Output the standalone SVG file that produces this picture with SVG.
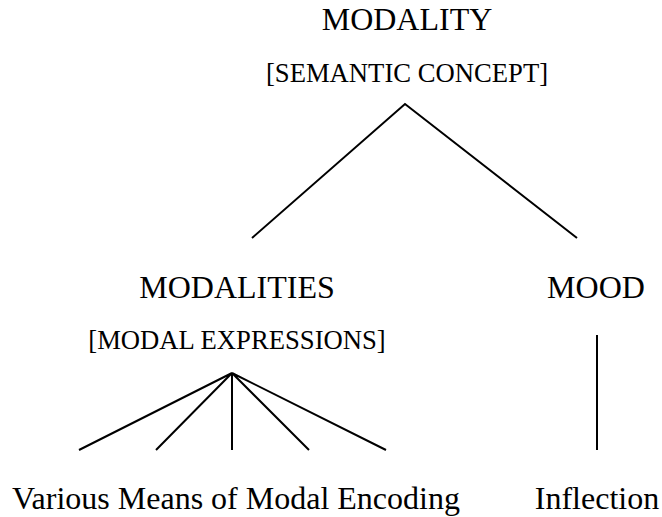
<svg xmlns="http://www.w3.org/2000/svg" width="662" height="517" viewBox="0 0 662 517">
  <style>
    text { font-family: 'Liberation Serif', 'Times New Roman', 'DejaVu Serif', serif; fill: #000; text-anchor: middle; }
    .big { font-size: 32px; }
    .small { font-size: 26.67px; }
    .edge { stroke: #000; stroke-width: 2; fill: none; }
  </style>
  <rect width="662" height="517" fill="#fff"/>
  <g id="modality">
    <text class="big" x="407" y="30">MODALITY</text>
    <text class="small" x="407" y="82">[SEMANTIC CONCEPT]</text>
  </g>
  <g id="modalities">
    <text class="big" x="237" y="298">MODALITIES</text>
    <text class="small" x="237" y="349">[MODAL EXPRESSIONS]</text>
  </g>
  <g id="mood">
    <text class="big" x="596" y="298">MOOD</text>
  </g>
  <g id="encoding">
    <text class="big" x="236" y="509">Various Means of Modal Encoding</text>
  </g>
  <g id="inflection">
    <text class="big" x="597" y="509">Inflection</text>
  </g>
  <g id="connectors">
    <path class="edge" d="M252 238 L405 104 L577 238"/>
    <path class="edge" d="M79 450 L232 373 L156 450 M232 373 L232 450 M232 373 L309 450 M232 373 L386 450"/>
    <path class="edge" d="M597 335 L597 450"/>
  </g>
</svg>
